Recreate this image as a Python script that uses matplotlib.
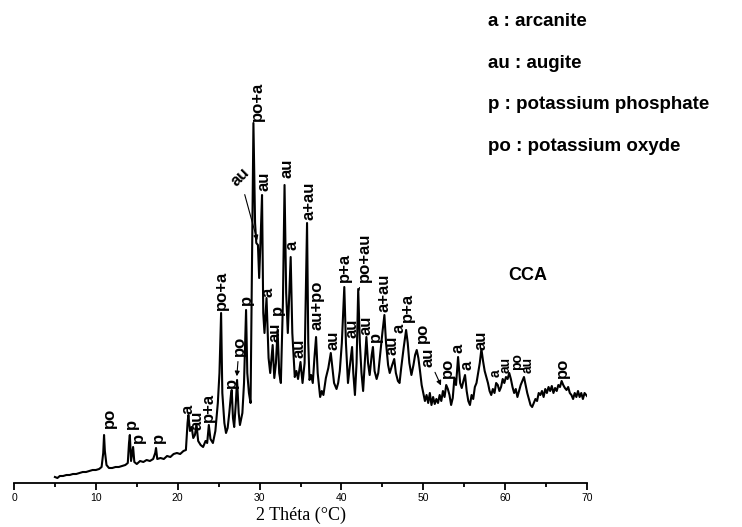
import matplotlib
matplotlib.use("Agg")
import matplotlib.pyplot as plt

# XRD pattern of the CCA sample
two_theta = [5.0, 5.3, 5.6, 6.0, 6.4, 6.8, 7.2, 7.6, 8.0, 8.4, 8.8, 9.2, 9.6, 10.0, 10.4, 10.7, 10.9, 11.0, 11.1, 11.3,
             11.6, 12.0, 12.4, 12.8, 13.2, 13.6, 13.9, 14.05, 14.15, 14.3, 14.45, 14.55, 14.7, 15.0, 15.4, 15.8, 16.2,
             16.6, 17.0, 17.25, 17.35, 17.5, 17.9, 18.3, 18.7, 19.1, 19.5, 19.9, 20.3, 20.7, 21.0, 21.2, 21.3, 21.5,
             21.7, 21.9, 22.1, 22.3, 22.5, 22.8, 23.1, 23.4, 23.6, 23.8, 24.0, 24.3, 24.6, 24.9, 25.1, 25.3, 25.45,
             25.7, 25.9, 26.1, 26.3, 26.5, 26.6, 26.75, 26.9, 27.1, 27.25, 27.45, 27.6, 27.9, 28.1, 28.35, 28.5, 28.7,
             28.9, 29.05, 29.25, 29.45, 29.6, 29.8, 29.95, 30.15, 30.3, 30.45, 30.6, 30.85, 31.1, 31.3, 31.6, 31.8,
             32.0, 32.2, 32.4, 32.6, 32.85, 33.05, 33.25, 33.45, 33.8, 34.0, 34.3, 34.5, 34.7, 35.0, 35.25, 35.5, 35.8,
             35.95, 36.1, 36.3, 36.5, 36.7, 36.9, 37.1, 37.4, 37.6, 37.8, 38.1, 38.4, 38.7, 38.9, 39.1, 39.4, 39.6,
             39.8, 40.05, 40.35, 40.55, 40.8, 41.0, 41.3, 41.45, 41.65, 41.85, 42.05, 42.25, 42.45, 42.65, 42.85, 43.05,
             43.25, 43.45, 43.7, 43.85, 44.05, 44.3, 44.5, 44.75, 45.0, 45.25, 45.45, 45.7, 45.9, 46.2, 46.45, 46.65,
             46.9, 47.1, 47.3, 47.6, 47.9, 48.1, 48.3, 48.55, 48.8, 49.0, 49.2, 49.4, 49.6, 49.8, 50.0, 50.2, 50.4,
             50.6, 50.8, 51.0, 51.2, 51.4, 51.6, 51.8, 52.0, 52.2, 52.4, 52.6, 52.8, 53.0, 53.2, 53.4, 53.6, 53.8,
             54.0, 54.25, 54.5, 54.7, 54.9, 55.1, 55.3, 55.5, 55.7, 55.9, 56.1, 56.3, 56.5, 56.7, 56.9, 57.1, 57.3,
             57.5, 57.7, 57.9, 58.1, 58.3, 58.5, 58.7, 58.9, 59.1, 59.3, 59.5, 59.7, 59.9, 60.1, 60.3, 60.5, 60.7,
             60.9, 61.1, 61.3, 61.5, 61.7, 61.9, 62.1, 62.3, 62.5, 62.7, 62.9, 63.1, 63.3, 63.5, 63.7, 63.9, 64.1,
             64.3, 64.5, 64.7, 64.9, 65.1, 65.3, 65.5, 65.7, 65.9, 66.1, 66.3, 66.5, 66.7, 66.9, 67.1, 67.3, 67.5,
             67.7, 67.9, 68.1, 68.3, 68.5, 68.7, 68.9, 69.1, 69.3, 69.5, 69.7, 70.0]
intensity = [6, 5, 7, 7, 8, 8, 9, 9, 10, 11, 11, 12, 13, 13, 14, 16, 30, 48, 32, 18,
             15, 15, 16, 16, 17, 18, 20, 40, 48, 22, 30, 36, 21, 19, 22, 21, 23,
             22, 24, 30, 35, 24, 25, 24, 27, 26, 29, 30, 29, 32, 33, 60, 68, 52,
             56, 45, 48, 58, 42, 38, 36, 42, 40, 58, 44, 40, 52, 80, 110, 170, 90,
             60, 50, 55, 70, 88, 93, 65, 56, 80, 103, 70, 58, 70, 100, 173, 110, 90,
             80, 200, 360, 260, 240, 238, 205, 250, 288, 170, 150, 185, 125, 110, 138, 105,
             120, 153, 110, 100, 180, 298, 190, 150, 226, 150, 106, 112, 104, 121, 100, 120, 260,
             140, 103, 108, 100, 125, 146, 110, 86, 92, 88, 105, 115, 130, 115, 100, 94, 100,
             112, 140, 196, 140, 100, 115, 136, 110, 88, 120, 194, 140, 110, 92, 120, 146,
             120, 108, 128, 136, 112, 104, 110, 130, 150, 168, 140, 118, 110, 118, 124, 110,
             102, 100, 115, 135, 153, 140, 120, 108, 118, 128, 133, 125, 112, 98, 90, 82, 88,
             80, 90, 78, 86, 79, 84, 80, 88, 82, 92, 86, 98, 94, 88, 78, 85, 105,
             98, 126, 100, 95, 102, 108, 92, 82, 78, 88, 84, 96, 100, 110, 120, 134, 122,
             112, 106, 100, 92, 88, 94, 90, 100, 98, 92, 96, 104, 100, 106, 104, 110, 104,
             96, 90, 94, 86, 92, 98, 102, 106, 98, 90, 84, 78, 76, 80, 84, 82, 90,
             88, 92, 86, 94, 90, 96, 92, 97, 90, 95, 92, 98, 96, 102, 98, 95, 93,
             96, 90, 88, 84, 90, 86, 92, 86, 90, 84, 90, 87]

# phase labels: text, 2theta, height of the label foot
peak_text = ["po", "p", "p", "p", "a", "au", "p+a", "po+a", "p", "p", "po+a", "au", "a", "au", "p",
             "au", "a", "au", "a+au", "au+po", "au", "p+a", "au", "au", "p", "a+au", "au", "a", "p+a",
             "po", "po", "a", "a", "au", "a", "au", "po", "au", "po"]
peak_pos = [11.6, 14.3, 15.2, 17.6, 21.3, 22.3, 23.8, 25.4, 26.6, 28.4, 29.7, 30.6, 31.0, 31.9, 32.2,
            33.3, 34.0, 34.8, 36.0, 37.0, 39.0, 40.4, 41.3, 43.0, 44.1, 45.2, 46.2, 47.0, 48.1,
            49.9, 52.9, 54.3, 55.4, 57.1, 58.8, 60.1, 61.4, 62.7, 67.0]
peak_top = [55, 54, 40, 40, 69, 53, 61, 173, 95, 178, 362, 292, 186, 141, 168,
            305, 233, 125, 263, 153, 133, 201, 145, 148, 141, 171, 128, 150, 161,
            140, 105, 130, 113, 133, 106, 110, 113, 110, 105]

legend_lines = ["a : arcanite", "au : augite", "p : potassium phosphate", "po : potassium oxyde"]

bold = dict(family="Liberation Sans", weight="bold")

fig = plt.figure(figsize=(7.42, 5.27), dpi=100)
ax = fig.add_axes([14 / 742, 44 / 527, 573 / 742, 483 / 527])
ax.plot(two_theta, intensity, color="black", lw=1.5)

for txt, x, y in zip(peak_text, peak_pos, peak_top):
    size = 10 if 58.5 < x < 63 else 12
    ax.text(x, y, txt, rotation=90, ha="center", va="bottom", fontsize=size, **bold)

# labels pointing at their peak with an arrow
arrow = dict(arrowstyle="-|>", lw=0.8, color="black", mutation_scale=7)
ax.annotate("po", xy=(27.2, 104), xytext=(27.5, 127), rotation=90, ha="center", va="bottom",
            fontsize=12, arrowprops=arrow, **bold)
ax.annotate("au", xy=(29.8, 240), xytext=(27.6, 306), rotation=45, ha="center", va="center",
            fontsize=12, arrowprops=arrow, **bold)
ax.annotate("au", xy=(52.3, 95), xytext=(50.6, 116), rotation=90, ha="center", va="bottom",
            fontsize=12, arrowprops=arrow, **bold)
ax.annotate("po+au", xy=(42.1, 190), xytext=(42.8, 201), rotation=90, ha="center", va="bottom",
            fontsize=12, arrowprops=dict(arrowstyle="-", lw=0.8, color="black"), **bold)

ax.text(62.8, 207, "CCA", ha="center", va="center", fontsize=13, **bold)

ax.set_xlim(0, 70)
ax.set_ylim(0, 483)
ax.set_xticks(range(0, 71, 10))
ax.set_xticks(range(5, 70, 10), minor=True)
ax.tick_params(axis="x", which="major", direction="out", length=5, width=1.3, labelsize=7.5, pad=2)
ax.tick_params(axis="x", which="minor", direction="out", length=3, width=1.3)
for lab in ax.get_xticklabels():
    lab.set_family("Liberation Sans")
ax.set_yticks([])
for side in ["left", "right", "top"]:
    ax.spines[side].set_visible(False)
ax.spines["bottom"].set_linewidth(1.3)
ax.set_xlabel("2 Théta (°C)", family="Liberation Serif", fontsize=13, labelpad=3)

for i, line in enumerate(legend_lines):
    fig.text(488 / 742, 1 - (26 + 41.5 * i) / 527, line, ha="left", va="baseline", fontsize=13.5, **bold)

fig.savefig("out.png", dpi=100)
